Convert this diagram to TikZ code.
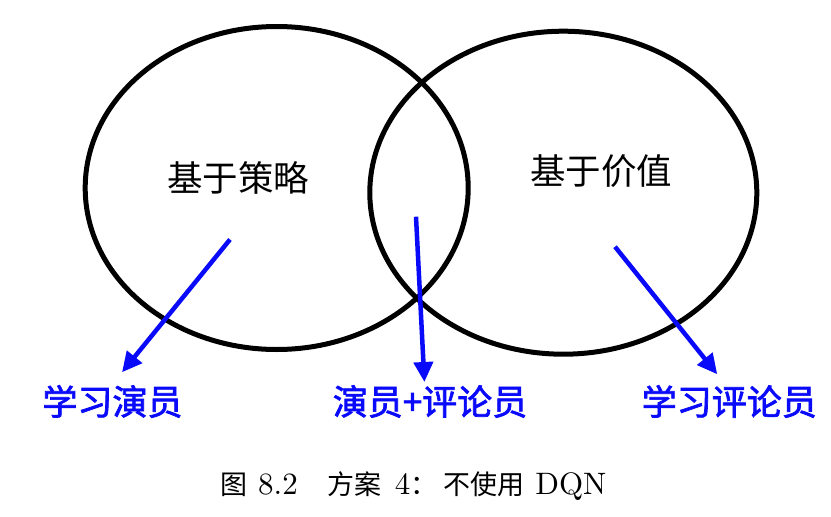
\documentclass[tikz,border=0pt]{standalone}
\usepackage{fontspec}
\newfontfamily\cjk{Noto Sans CJK SC}
\newfontfamily\cjkb{Noto Sans CJK SC}[FakeBold=2]
\newfontfamily\lmten{lmroman10-regular}[Extension=.otf]
\usetikzlibrary{arrows.meta}
\definecolor{lblblue}{RGB}{10,10,250}
\tikzset{
  ring/.style={line width=5pt, draw=black},
  inlabel/.style={font=\cjk\fontsize{35.5}{36}\selectfont, inner sep=0pt},
  outlabel/.style={font=\cjkb\fontsize{35}{35}\selectfont, text=lblblue, inner sep=0pt},
  barrow/.style={draw=lblblue, line width=4.5pt, -{Triangle[length=20pt,width=19pt]}, shorten >=-2pt},
}
\newcommand{\capcjk}[1]{{\cjk\fontsize{27}{27}\selectfont #1}}
\begin{document}
\begin{tikzpicture}[x=1pt,y=-1pt]
\useasboundingbox (0,0) rectangle (831,517);
\fill[white] (0,0) rectangle (831,517);
\draw[ring] (276.7,188) ellipse [x radius=191.5, y radius=161.5];
\draw[ring] (563.3,192.7) ellipse [x radius=193.5, y radius=161.5];
\node[inlabel] (policy) at (238,178) {基于策略};
\node[inlabel] (value) at (601,171.5) {基于价值};
\node[outlabel] (actor) at (112.5,401.5) {学习演员};
\node[outlabel] (ac) at (430,401.5) {演员+评论员};
\node[outlabel] (critic) at (729.3,401.5) {学习评论员};
\coordinate (s1) at (230,239.5);
\coordinate (t1) at (123.3,370.7);
\coordinate (s2) at (416,216.7);
\coordinate (t2) at (424.3,380);
\coordinate (s3) at (615,246.7);
\coordinate (t3) at (716,372.7);
\draw[barrow] (s1) -- (t1);
\draw[barrow] (s2) -- (t2);
\draw[barrow] (s3) -- (t3);
\node[font=\lmten\fontsize{31}{31}\selectfont, inner sep=0pt, anchor=base west] (caption) at (220,494)
  {\capcjk{图}\hspace{11pt}8.2\hspace{30pt}\capcjk{方案}\hspace{13pt}4\capcjk{：}\hspace{6pt}\capcjk{不使用}\hspace{11pt}DQN};
\end{tikzpicture}
\end{document}
